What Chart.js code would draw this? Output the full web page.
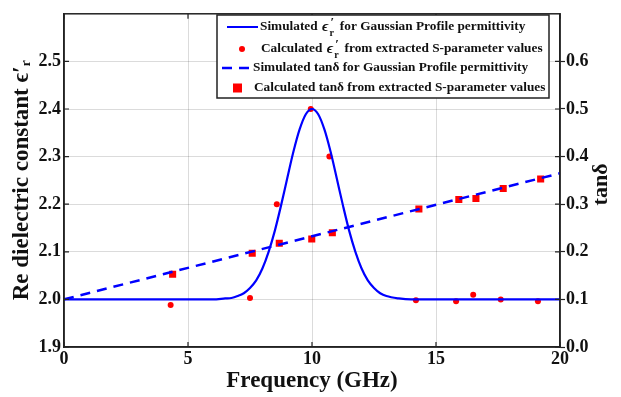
<!DOCTYPE html>
<html>
<head>
<meta charset="utf-8">
<script src="https://cdn.jsdelivr.net/npm/chart.js@4.4.1/dist/chart.umd.min.js"></script>
<style>
  html, body { margin: 0; padding: 0; background: #ffffff; }
  #wrap { width: 621px; height: 397px; position: relative; }
</style>
</head>
<body>
<div id="wrap"><canvas id="c" width="621" height="397"></canvas></div>
<script>
// ---------------- data ----------------
// Simulated Re(eps') Gaussian profile (frequency in GHz)
const simFreq = [0, 1, 2, 3, 4, 5, 6, 6.5, 6.75, 7, 7.25, 7.5, 7.75, 8, 8.25, 8.5, 8.75, 9, 9.25, 9.5, 9.75, 10,
                 10.25, 10.5, 10.75, 11, 11.25, 11.5, 11.75, 12, 12.25, 12.5, 12.75, 13, 13.5, 14, 15, 16, 17, 18, 19, 20];
const simEps  = [2.0, 2.0, 2.0, 2.0, 2.0, 2.0, 2.0, 2.002, 2.003, 2.007, 2.013, 2.024, 2.040, 2.065, 2.100, 2.144, 2.197, 2.254, 2.310, 2.357, 2.389, 2.400,
                 2.389, 2.357, 2.310, 2.254, 2.197, 2.144, 2.100, 2.065, 2.040, 2.024, 2.013, 2.007, 2.002, 2.0, 2.0, 2.0, 2.0, 2.0, 2.0, 2.0];

// Calculated eps' from extracted S-parameters
const calcEpsFreq = [4.30, 7.50, 8.58, 9.95, 10.70, 14.19, 15.81, 16.50, 17.61, 19.11];
const calcEps     = [1.988, 2.003, 2.200, 2.400, 2.300, 1.998, 1.996, 2.010, 2.000, 1.996];

// Simulated tan delta (straight line)
const simTanFreq = [0, 20];
const simTan     = [0.100, 0.365];

// Calculated tan delta from extracted S-parameters
const calcTanFreq = [4.38, 7.59, 8.68, 9.99, 10.82, 14.31, 15.92, 16.61, 17.71, 19.22];
const calcTan     = [0.153, 0.197, 0.218, 0.227, 0.240, 0.290, 0.310, 0.312, 0.333, 0.353];

// Tick labels
const xTicks     = [0, 5, 10, 15, 20];
const leftTicks  = [1.9, 2.0, 2.1, 2.2, 2.3, 2.4, 2.5];
const rightTicks = [0.0, 0.1, 0.2, 0.3, 0.4, 0.5, 0.6];

const legendLabels = [
  ['Simulated ', 'EPS', ' for Gaussian Profile permittivity'],
  ['Calculated ', 'EPS', ' from extracted S-parameter values'],
  ['Simulated tanδ for Gaussian Profile permittivity'],
  ['Calculated tanδ from extracted S-parameter values']
];
const rightTitle = 'tanδ';

// ---------------- chart ----------------
const pts = (xs, ys) => xs.map((x, i) => ({ x: x, y: ys[i] }));
const FONT = '"Liberation Serif", "DejaVu Serif", serif';
const BLUE = '#0000ff';
const RED = '#ff0000';
const GRID = 'rgba(0,0,0,0.14)';

const framePlugin = {
  id: 'frame',
  afterDraw(chart) {
    const ctx = chart.ctx;
    const a = chart.chartArea;
    const xs = chart.scales.x, ys = chart.scales.y;
    ctx.save();
    // box
    ctx.strokeStyle = '#222';
    ctx.lineWidth = 1.5;
    ctx.strokeRect(a.left, a.top, a.right - a.left, a.bottom - a.top);
    // inward ticks
    ctx.lineWidth = 1.2;
    ctx.beginPath();
    xTicks.forEach(v => {
      const px = xs.getPixelForValue(v);
      ctx.moveTo(px, a.bottom); ctx.lineTo(px, a.bottom - 5);
      ctx.moveTo(px, a.top); ctx.lineTo(px, a.top + 5);
    });
    leftTicks.forEach(v => {
      const py = ys.getPixelForValue(v);
      ctx.moveTo(a.left, py); ctx.lineTo(a.left + 5, py);
      ctx.moveTo(a.right, py); ctx.lineTo(a.right - 5, py);
    });
    ctx.stroke();

    // right axis title, reading bottom-to-top
    ctx.save();
    ctx.translate(601, (a.top + a.bottom) / 2 + 4);
    ctx.rotate(-Math.PI / 2);
    ctx.fillStyle = '#111';
    ctx.font = 'bold 22px ' + FONT;
    ctx.textAlign = 'center';
    ctx.textBaseline = 'middle';
    ctx.fillText(rightTitle, 0, 0);
    ctx.restore();

    // legend
    const L = 217, T = 15, R = 549, B = 98;
    ctx.fillStyle = '#fff';
    ctx.fillRect(L, T, R - L, B - T);
    ctx.strokeStyle = '#222';
    ctx.lineWidth = 1.5;
    ctx.strokeRect(L, T, R - L, B - T);

    const rowsY = [27, 49, 68, 88];
    const textX = [260, 261, 253, 254];
    // samples
    ctx.strokeStyle = BLUE;
    ctx.lineWidth = 2;
    ctx.beginPath(); ctx.moveTo(227, rowsY[0]); ctx.lineTo(258, rowsY[0]); ctx.stroke();
    ctx.fillStyle = RED;
    ctx.beginPath(); ctx.arc(242, rowsY[1], 3, 0, Math.PI * 2); ctx.fill();
    ctx.strokeStyle = BLUE;
    ctx.lineWidth = 2.5;
    ctx.setLineDash([10, 7]);
    ctx.beginPath(); ctx.moveTo(222, rowsY[2]); ctx.lineTo(250, rowsY[2]); ctx.stroke();
    ctx.setLineDash([]);
    ctx.fillStyle = RED;
    ctx.fillRect(233, rowsY[3] - 4.5, 9, 9);

    // texts
    ctx.fillStyle = '#111';
    ctx.textBaseline = 'middle';
    const fs = 13.3;
    legendLabels.forEach((parts, i) => {
      let x = textX[i];
      const y = rowsY[i];
      parts.forEach(p => {
        if (p === 'EPS') {
          ctx.font = 'italic bold ' + (fs + 2) + 'px ' + FONT;
          ctx.fillText('ϵ', x + 1, y);
          x += ctx.measureText('ϵ').width + 2;
          ctx.font = 'bold 13px ' + FONT;
          ctx.fillText('′', x + 1, y - 4);
          ctx.font = 'bold 10px ' + FONT;
          ctx.fillText('r', x, y + 6);
          x += 7;
        } else {
          ctx.font = 'bold ' + fs + 'px ' + FONT;
          ctx.fillText(p, x, y);
          x += ctx.measureText(p).width;
        }
      });
    });
    ctx.restore();
  }
};

new Chart(document.getElementById('c'), {
  type: 'line',
  data: {
    datasets: [
      {
        label: 'Simulated eps_r\' for Gaussian Profile permittivity',
        data: pts(simFreq, simEps),
        yAxisID: 'y',
        borderColor: BLUE, borderWidth: 2.2,
        pointRadius: 0, cubicInterpolationMode: 'monotone', fill: false
      },
      {
        label: 'Calculated eps_r\' from extracted S-parameter values',
        data: pts(calcEpsFreq, calcEps),
        yAxisID: 'y',
        showLine: false,
        pointStyle: 'circle', pointRadius: 3,
        pointBackgroundColor: RED, pointBorderColor: RED, pointBorderWidth: 0
      },
      {
        label: 'Simulated tanδ for Gaussian Profile permittivity',
        data: pts(simTanFreq, simTan),
        yAxisID: 'y2',
        borderColor: BLUE, borderWidth: 2.5, borderDash: [10, 7],
        pointRadius: 0, fill: false
      },
      {
        label: 'Calculated tanδ from extracted S-parameter values',
        data: pts(calcTanFreq, calcTan),
        yAxisID: 'y2',
        showLine: false,
        pointStyle: 'rect', pointRadius: 5,
        pointBackgroundColor: RED, pointBorderColor: RED, pointBorderWidth: 0
      }
    ]
  },
  options: {
    responsive: false,
    animation: false,
    layout: { padding: { top: 11, left: 0, right: 0, bottom: 0 } },
    plugins: { legend: { display: false }, tooltip: { enabled: false } },
    scales: {
      x: {
        type: 'linear', min: 0, max: 20,
        afterBuildTicks: s => { s.ticks = xTicks.map(v => ({ value: v })); },
        afterFit: s => { s.height = 50; },
        grid: { color: GRID, lineWidth: 1, drawTicks: false },
        border: { color: '#222', width: 1.5 },
        ticks: { color: '#111', font: { family: FONT, size: 18, weight: 'bold' }, padding: 2, maxRotation: 0 },
        title: { display: true, text: 'Frequency (GHz)', color: '#111',
                 font: { family: FONT, size: 23, weight: 'bold' }, padding: { top: 0, bottom: 2 } }
      },
      y: {
        type: 'linear', position: 'left', min: 1.9, max: 2.6,
        afterBuildTicks: s => { s.ticks = leftTicks.map(v => ({ value: v })); },
        afterFit: s => { s.width = 64; },
        grid: { color: GRID, lineWidth: 1, drawTicks: false },
        border: { color: '#222', width: 1.5 },
        ticks: { color: '#111', font: { family: FONT, size: 18, weight: 'bold' }, padding: 3,
                 callback: v => v.toFixed(1) },
        title: { display: true, text: 'Re dielectric constant ϵ′ᵣ', color: '#111',
                 font: { family: FONT, size: 23, weight: 'bold' }, padding: { top: 8, bottom: 0 } }
      },
      y2: {
        type: 'linear', position: 'right', min: 0, max: 0.7,
        afterBuildTicks: s => { s.ticks = rightTicks.map(v => ({ value: v })); },
        afterFit: s => { s.width = 61; },
        grid: { drawOnChartArea: false, drawTicks: true, tickLength: 5, tickColor: '#222', tickWidth: 1.2 },
        border: { color: '#222', width: 1.5 },
        ticks: { color: '#111', font: { family: FONT, size: 18, weight: 'bold' }, padding: 1,
                 callback: v => v.toFixed(1) },
        title: { display: false }
      }
    }
  },
  plugins: [framePlugin]
});
</script>
</body>
</html>
